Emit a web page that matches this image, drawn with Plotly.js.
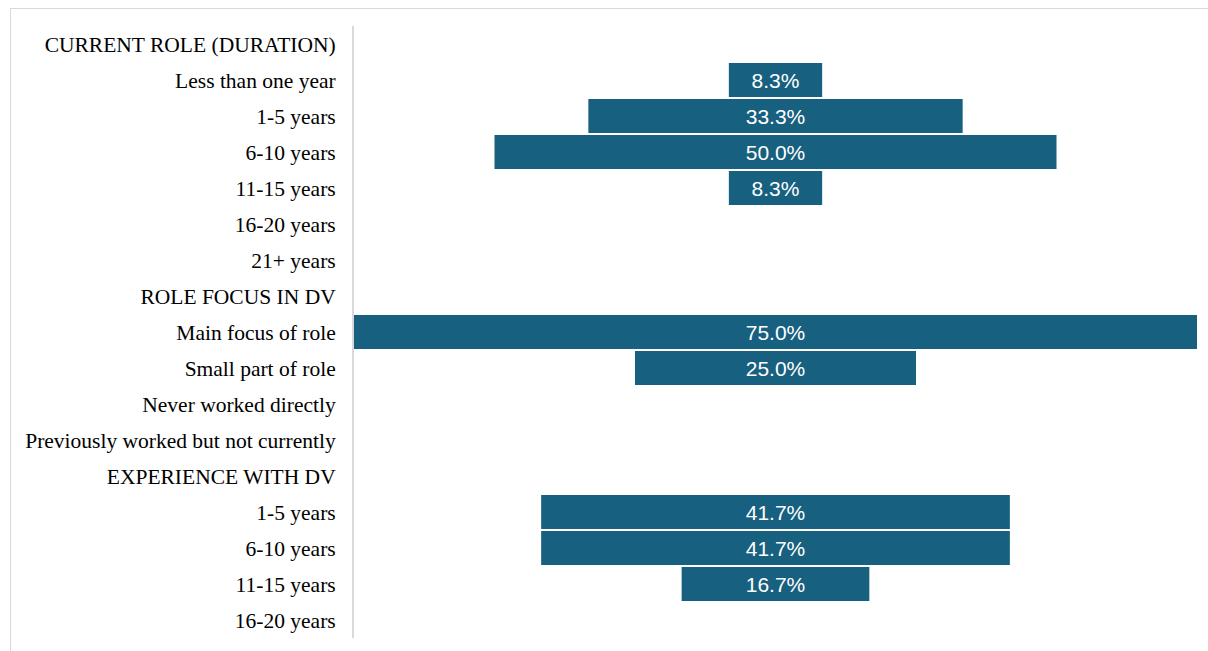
<!DOCTYPE html>
<html>
<head>
<meta charset="utf-8">
<script src="https://cdn.plot.ly/plotly-3.0.1.min.js"></script>
<style>
  html, body { margin: 0; padding: 0; background: #ffffff; overflow: hidden; }
  #frame { position: absolute; left: 10px; top: 8px; width: 1300px; height: 700px; border: 1px solid #d9d9d9; box-sizing: border-box; }
  #chart { position: absolute; left: 0; top: 0; width: 1208px; height: 651px; }
</style>
</head>
<body>
<div id="frame"></div>
<div id="chart"></div>
<script>
// Category labels (top to bottom)
const labels = [
  "CURRENT ROLE (DURATION)",
  "Less than one year",
  "1-5 years",
  "6-10 years",
  "11-15 years",
  "16-20 years",
  "21+ years",
  "ROLE FOCUS IN DV",
  "Main focus of role",
  "Small part of role",
  "Never worked directly",
  "Previously worked but not currently",
  "EXPERIENCE WITH DV",
  "1-5 years",
  "6-10 years",
  "11-15 years",
  "16-20 years"
];
// Percent values (null = no bar / header row)
const values = [
  null, 8.3, 33.3, 50.0, 8.3, null, null,
  null, 75.0, 25.0, null, null,
  null, 41.7, 41.7, 16.7, null
];

const positions = labels.map((_, i) => i);

const trace = {
  type: 'bar',
  orientation: 'h',
  y: positions,
  x: values,
  base: values.map(v => (v == null ? null : -v / 2)),
  marker: { color: '#17607f' },
  texttemplate: '%{x:.1f}%',
  textposition: 'inside',
  insidetextanchor: 'middle',
  textangle: 0,
  constraintext: 'none',
  textfont: { family: 'Liberation Sans, Arial, sans-serif', size: 21, color: '#ffffff' },
  hoverinfo: 'skip',
  cliponaxis: false
};

const layout = {
  width: 1208,
  height: 651,
  margin: { l: 354, r: 11, t: 26, b: 13, pad: 0 },
  paper_bgcolor: 'rgba(0,0,0,0)',
  plot_bgcolor: 'rgba(0,0,0,0)',
  showlegend: false,
  bargap: 0.055,
  xaxis: {
    range: [-37.5, 37.5],
    showgrid: false,
    zeroline: false,
    showticklabels: false,
    showline: false,
    fixedrange: true
  },
  yaxis: {
    range: [labels.length - 0.5, -0.5],
    tickmode: 'array',
    tickvals: positions,
    ticktext: labels,
    showgrid: false,
    zeroline: false,
    showline: true,
    linecolor: '#d9d9d9',
    linewidth: 2,
    ticks: '',
    ticklabelstandoff: 12,
    tickfont: { family: 'Liberation Serif, Times New Roman, serif', size: 21.5, color: '#000000' },
    fixedrange: true
  }
};

Plotly.newPlot('chart', [trace], layout, { displayModeBar: false, staticPlot: true });
</script>
</body>
</html>
